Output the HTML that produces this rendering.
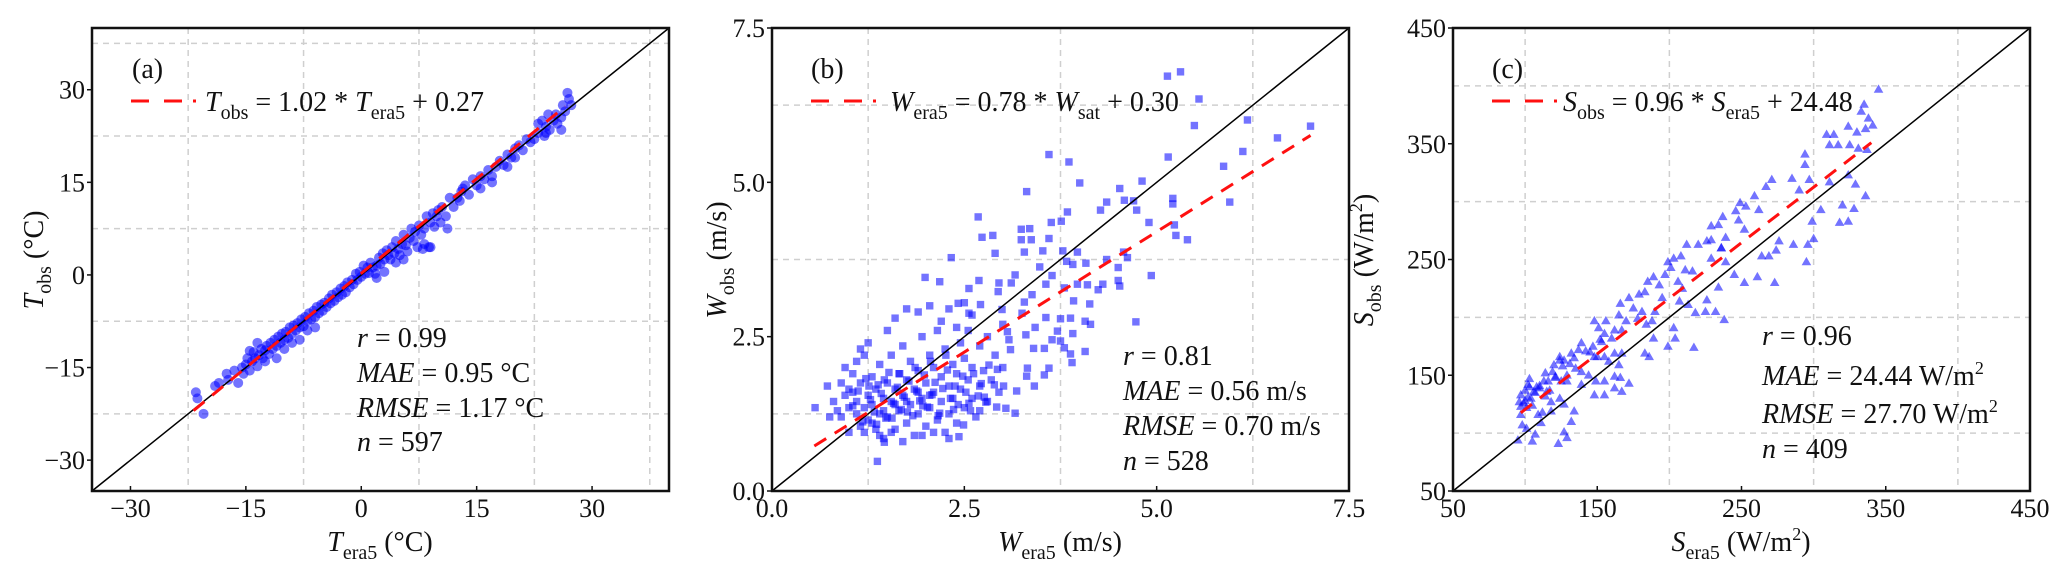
<!DOCTYPE html>
<html><head><meta charset="utf-8"><style>
html,body{margin:0;padding:0;background:#fff;}
svg text{font-family:"Liberation Serif","DejaVu Serif",serif;fill:#111;}
</style></head><body>
<svg id="fig" width="2067" height="576" viewBox="0 0 2067 576" xmlns="http://www.w3.org/2000/svg"></svg>
<script>
// ---------- Panel (a) data ----------
const aX=[-21.5,-21.3,-20.5,-19,-18.5,-17.5,-17.3,-16,-16.5,-15.5,-15.3,-15,-14.8,-14.5,-14.2,-14,-13.8,-13.5,-13.3,-13,-12.8,-12.5,-12.3,-12,-11.8,-11.5,-11.3,-11,-10.8,-10.5,-10.3,-10,-9.8,-9.5,-9.3,-9,-8.8,-8.5,-8.3,-8,-7.8,-7.5,-7.3,-7,-6.8,-6.5,-6.2,-6,-5.8,-5.5,-5.2,-5,-4.8,-4.5,-4.2,-4,-3.8,-3.5,-3.2,-3,-2.7,-2.5,-2.2,-2,-1.8,-1.5,-1.2,-1,-0.7,-0.5,-0.2,0,0.3,0.5,0.8,1,1.2,1.5,1.8,2,2.3,2.5,2.8,3,3.3,3.5,3.8,4,4.3,4.5,4.8,5,5.3,5.5,5.8,6,6.3,6.5,6.8,7,7.3,7.5,7.8,8,8.2,8.5,8.8,9,9.3,9.5,9.8,10,10.3,10.5,11.2,11,11.5,12,12.5,13,13.5,14,14.5,15,15.5,16,16.5,17,17.5,18,18.5,19,19.5,20,20.5,21,21.5,22,22.5,23,23,23.5,23.8,24,24.3,24.5,25,25.3,25.5,26,26.2,26.5,26.8,27,27.3,26,24,12.8,13.2,-12.5,-13.5,-14.5,-11,-10,-9,-8,-7,-6,4.5,5.5,9,8.2,3,2,15.5,17,19,20];
const aY=[-19,-20,-22.5,-18,-17.5,-16,-17,-17.5,-15.5,-15,-16,-14.5,-13.5,-15.5,-14,-12.5,-13.5,-14.8,-13,-12,-13.5,-12.2,-11.5,-12.8,-11,-12,-10.5,-11.5,-10,-11,-9.5,-10.5,-9.2,-10.2,-8.5,-9.5,-8.2,-9,-7.8,-8.5,-7.2,-8.3,-6.8,-7.5,-6.2,-7.2,-5.8,-6.8,-5.2,-6.2,-4.8,-5.8,-4.5,-5.2,-3.8,-4.6,-3.2,-4.2,-2.8,-3.6,-2.2,-3.2,-1.8,-2.8,-1.2,-2,-0.8,-1.5,0.2,-0.8,0.5,-0.3,1.5,0.2,1.2,0.3,2,1.2,0.2,1.5,2.8,1.8,3.5,2.5,4,3.2,2.5,4.5,3.5,5.5,4.2,3.2,5,6.5,4.8,3.8,6,7.5,5.5,7,4.5,8,6.5,4.2,7.5,9.5,4.5,8.5,10,7.8,9.5,10.5,8.5,11,7.5,9.5,12.5,11,12.5,13.5,14.5,13,15.5,14.5,16,15.5,17,16,17.5,18.5,17.8,19.5,19,20.5,21,20.2,22,21.5,22,24.5,23,25,22.5,24,26,23.5,25,26,24.5,25.5,27.5,26.5,29.5,28.5,27.5,23.5,23,12,14,-14,-11,-12.3,-13.5,-12,-11,-10.5,-9,-8.5,2,2.5,4.5,5,0.5,-0.5,14,15,17.5,19];
const aTicks=[-30,-15,0,15,30];
const aGrid=[-22.5,-7.5,7.5,22.5,37.5];
// ---------- Panel (b) data ----------
const bX=[5.14,5.31,5.55,5.49,6.18,7.0,6.57,6.12,5.87,5.95,5.15,3.60,3.86,4.0,3.31,4.81,4.52,4.35,4.58,4.70,4.27,4.74,5.21,5.21,4.90,5.23,5.25,5.40,2.68,2.73,2.87,3.24,3.35,3.24,3.37,3.60,3.63,3.76,3.84,2.90,3.28,3.52,3.78,3.97,2.33,3.48,3.83,3.91,4.08,4.35,4.50,4.62,4.57,4.93,1.99,2.18,2.69,2.56,2.95,3.11,3.16,2.94,3.38,3.56,3.64,3.80,3.97,4.10,4.24,4.30,4.50,4.52,4.73,4.13,3.92,3.28,2.71,2.42,2.56,2.99,3.25,3.56,3.75,3.88,4.07,4.14,3.42,3.71,3.91,3.06,3.30,3.64,3.75,3.08,3.40,3.54,3.80,4.07,3.88,3.90,3.10,3.32,3.60,3.54,3.31,3.41,3.18,2.93,2.89,3.01,2.92,3.04,3.16,2.70,2.49,2.43,1.37,1.46,0.56,0.72,
0.8,0.85,0.9,0.95,1.0,1.0,1.05,1.1,1.1,1.15,1.15,1.2,1.2,1.25,1.25,1.3,1.3,1.35,1.35,1.4,1.4,1.45,1.45,1.5,1.5,1.55,1.55,1.6,1.6,1.65,1.65,1.7,1.7,1.75,1.75,1.8,1.8,1.85,1.85,1.9,1.9,1.95,1.95,2.0,2.0,2.05,2.05,2.1,2.1,2.15,2.15,2.2,2.2,2.25,2.25,2.3,2.3,2.35,2.35,2.4,2.4,2.45,2.45,2.5,2.5,2.55,2.55,2.6,2.6,2.65,2.7,2.7,2.75,2.8,2.8,2.85,2.9,2.95,3.0,3.0,0.75,0.9,1.05,1.2,1.3,1.45,1.6,1.75,1.9,2.05,1.95,1.7,1.55,1.4,2.1,2.3,1.25,1.5,1.6,1.75,1.9,2.05,2.3,2.5,2.6,2.2,0.95,1.15,1.0,1.1,2.4,
1.05,1.12,1.18,1.22,1.28,1.33,1.38,1.42,1.48,1.52,1.58,1.63,1.68,1.72,1.78,1.83,1.88,1.92,1.98,2.02,2.08,2.12,2.18,2.22,2.28,2.32,2.38,2.42,2.48,2.52,2.58,2.62,2.68,2.72,2.78,2.82,1.36,1.56,1.76,1.96,2.16,2.36,2.56,2.76,1.26,1.46,1.66,1.86,2.06,2.26];
const bY=[6.72,6.79,6.35,5.92,6.01,5.91,5.72,5.50,5.26,4.68,5.41,5.45,5.33,4.99,4.85,5.02,4.90,4.68,4.71,4.70,4.55,4.55,4.74,4.65,4.35,4.31,4.14,4.07,4.44,4.11,4.14,4.24,4.25,4.07,4.07,4.09,4.35,4.37,4.52,3.85,3.87,3.89,3.89,3.87,3.78,3.63,3.72,3.67,3.69,3.75,3.62,3.78,3.87,3.49,3.46,3.39,3.41,3.28,3.37,3.37,3.50,3.23,3.18,3.35,3.49,3.29,3.35,3.34,3.26,3.35,3.41,3.32,2.74,3.03,3.08,3.06,3.02,3.04,2.88,2.94,2.88,2.81,2.79,2.80,2.75,2.70,2.65,2.59,2.55,2.58,2.53,2.45,2.43,2.45,2.31,2.31,2.32,2.26,2.22,2.08,2.29,1.99,1.99,1.88,1.86,1.70,1.62,1.97,1.72,1.70,1.36,1.34,1.26,1.30,1.07,0.88,0.48,0.79,1.35,1.70,
1.45,1.3,1.2,1.55,1.35,0.95,1.6,1.25,1.45,1.05,1.75,1.35,0.95,1.55,1.15,1.85,1.4,1.0,1.65,1.25,2.05,1.5,0.85,1.75,1.2,2.2,1.45,1.0,1.65,1.3,1.9,2.35,1.55,1.1,1.8,1.4,2.1,0.9,1.65,1.25,1.95,2.5,1.5,1.05,1.75,2.2,1.35,1.6,2.0,1.15,2.6,1.45,1.85,0.95,2.3,1.7,1.25,2.05,1.5,1.9,1.1,2.4,1.65,1.35,2.15,1.8,2.6,1.5,2.0,1.2,2.35,1.7,1.95,1.45,2.5,1.8,2.2,1.6,2.0,2.7,1.2,1.75,1.9,2.2,1.1,1.3,1.4,1.45,1.6,1.55,0.9,0.8,0.95,0.9,0.95,0.85,2.4,2.6,2.8,2.95,2.9,3.0,2.95,3.05,2.85,2.75,2.0,2.3,1.65,2.1,2.65,
1.38,1.62,1.12,1.82,1.48,1.28,1.72,1.58,1.18,1.92,1.42,1.68,1.32,1.52,1.78,1.22,1.62,1.46,1.88,1.36,1.56,1.76,1.26,1.66,1.96,1.5,1.7,1.4,1.86,1.6,1.3,1.9,1.54,1.74,1.44,2.04,1.08,1.18,1.28,1.38,1.22,1.32,1.42,1.52,1.7,1.8,1.9,2.0,2.1,2.2];
const bTicks=[0,2.5,5,7.5];
const bTickLabels=["0.0","2.5","5.0","7.5"];
const bGrid=[1.25,3.75,6.25];
// ---------- Panel (c) data ----------
const cX=[345,335,338,341,333,330,336,309,314,324,311,317,325,331,337,294,294,285,271,267,297,290,311,324,329,336,320,328,318,324,305,299,300,296,295,286,276,274,269,264,261,273,259,262,249,253,246,237,248,252,229,234,239,236,229,226,236,220,212,229,239,245,252,234,226,225,218,232,238,203,199,208,201,211,216,197,206,189,185,193,183,209,207,213,195,179,172,166,175,181,165,178,190,188,184,203,204,199,189,183,186,217,170,167,162,156,148,151,155,160,153,147,139,137,142,134,132,127,124,148,155,158,162,167,165,162,166,172,155,149,148,155,144,139,135,129,125,121,119,113,110,106,102,100,97,104,96,97,101,97,98,109,111,107,105,123,129,127,132,134,127,124,118,115,114,95,101,103,117,120,124,129,139,162,167,150,118,99,102,105,108,112,116,100,103,107,110,114,121,126,131,145,152];
const cY=[397,384,372,366,378,360,363,358,358,365,349,349,349,346,345,341,332,320,319,313,319,310,317,323,315,305,297,294,282,283,293,283,268,263,248,263,266,258,253,253,235,230,305,293,299,296,292,287,284,276,279,280,269,260,267,266,260,263,263,251,248,237,230,226,215,205,204,205,198,251,248,253,243,241,240,237,231,235,231,228,222,225,214,211,217,220,217,212,208,205,202,199,205,197,194,191,182,175,182,169,166,174,197,189,189,197,197,191,186,182,179,175,178,172,171,165,169,163,166,166,166,162,169,169,159,149,148,143,145,145,133,133,150,153,156,150,145,148,153,145,139,136,142,137,133,130,127,123,122,116,107,116,109,99,93,91,96,101,110,119,125,130,127,136,132,94,104,140,137,159,163,145,142,139,136,166,119,126,131,124,140,118,145,128,147,135,141,152,149,158,160,170,181];
const cTicks=[50,150,250,350,450];
const cGrid=[100,200,300,400];

const NS="http://www.w3.org/2000/svg";
const svg=document.getElementById('fig');
function el(tag,attrs,parent){const e=document.createElementNS(NS,tag);for(const k in attrs)e.setAttribute(k,attrs[k]);(parent||svg).appendChild(e);return e;}

function panel(p){
  const L=p.L,T=28,W=577,H=463,B=T+H,R=L+W;
  const sx=v=>L+(v-p.min)/(p.max-p.min)*W;
  const sy=v=>B-(v-p.min)/(p.max-p.min)*H;
  const g=el('g',{});
  
  
  p.grid.forEach(v=>{
    const gx=el('line',{x1:sx(v),x2:sx(v),y1:T,y2:B,stroke:'#cfcfcf','stroke-width':1.5,'stroke-dasharray':'6,5'},g);
    
    
    const gy=el('line',{x1:L,x2:R,y1:sy(v),y2:sy(v),stroke:'#cfcfcf','stroke-width':1.5,'stroke-dasharray':'6,5'},g);
    
    
  });
  const pg=el('g',{fill:'#0000ff','fill-opacity':0.55},g);
  
  
  for(let i=0;i<p.xs.length;i++){
    const x=sx(p.xs[i]),y=sy(p.ys[i]);let m;
    if(p.marker==='circle') m=el('circle',{cx:x,cy:y,r:5},pg);
    else if(p.marker==='square') m=el('rect',{x:x-3.7,y:y-3.7,width:7.4,height:7.4},pg);
    else m=el('polygon',{points:`${x},${y-5} ${x-4.8},${y+3.4} ${x+4.8},${y+3.4}`},pg);
    
    
  }
  const one=el('line',{x1:L,y1:B,x2:R,y2:T,stroke:'#000','stroke-width':1.5},g);
  
  
  const fl=el('line',{x1:sx(p.fit[0]),y1:sy(p.slope*p.fit[0]+p.icpt),x2:sx(p.fit[1]),y2:sy(p.slope*p.fit[1]+p.icpt),stroke:'#ff1010','stroke-width':3,'stroke-dasharray':'14,10'},g);
  
  
  const fr=el('rect',{x:L,y:T,width:W,height:H,fill:'none',stroke:'#111','stroke-width':2.5},g);
  
  
  p.ticks.forEach((v,i)=>{
    const lab=p.labels?p.labels[i]:String(v).replace('-','\u2212');
    el('line',{x1:sx(v),x2:sx(v),y1:B,y2:B-5,stroke:'#111','stroke-width':1.5},g);
    el('line',{x1:L,x2:L-5,y1:sy(v),y2:sy(v),stroke:'#111','stroke-width':1.5},g);
    const tx=el('text',{x:sx(v),y:517,'font-size':26,'text-anchor':'middle'},g);tx.textContent=lab;
    
    
    const ty=el('text',{x:L-7,y:sy(v)+9,'font-size':26,'text-anchor':'end'},g);ty.textContent=lab;
    
    
  });
  return {L,T,B,R,g};
}
function addHTML(parent,html,name){const t=document.createElementNS(NS,'g');parent.appendChild(t);t.innerHTML=html;const c=t.firstElementChild;return c;}
function legend(P,textX,html){
  const y=101;
  const lg=el('g',{},P.g);
  
  
  el('line',{x1:P.L+39,x2:P.L+57,y1:y,y2:y,stroke:'#ff1010','stroke-width':3},lg);
  el('line',{x1:P.L+72,x2:P.L+90,y1:y,y2:y,stroke:'#ff1010','stroke-width':3},lg);
  el('line',{x1:P.L+101,x2:P.L+104,y1:y,y2:y,stroke:'#ff1010','stroke-width':3},lg);
  addHTML(lg,`<text x="${P.L+textX}" y="${y+10}" font-size="28">${html}</text>`,'legend-label');
}
function stats(P,x,ys,lines){lines.forEach((h,i)=>addHTML(P.g,`<text x="${x}" y="${ys[i]}" font-size="28">${h}</text>`,'stat-text'));}
const sub=(s)=>`<tspan font-size="20" dy="8">${s}</tspan><tspan dy="-8">\u200B</tspan>`;
const sup2=`<tspan font-size="18" dy="-11">2</tspan><tspan dy="11">\u200B</tspan>`;

const A=panel({name:'temperature',L:92,min:-35,max:40,xs:aX,ys:aY,marker:'circle',grid:aGrid,ticks:aTicks,fit:[-21.8,26.5],slope:1.02,icpt:0.27});
addHTML(A.g,`<text x="132" y="78" font-size="28">(a)</text>`,'panel-label-a');
legend(A,113,`<tspan font-style="italic">T</tspan>${sub('obs')} = 1.02 * <tspan font-style="italic">T</tspan>${sub('era5')} + 0.27`);
stats(A,357,[347,382,417,451],[`<tspan font-style="italic">r</tspan> = 0.99`,`<tspan font-style="italic">MAE</tspan> = 0.95 °C`,`<tspan font-style="italic">RMSE</tspan> = 1.17 °C`,`<tspan font-style="italic">n</tspan> = 597`]);
addHTML(A.g,`<text x="380" y="551" font-size="28" text-anchor="middle"><tspan font-style="italic">T</tspan>${sub('era5')} (°C)</text>`,'x-axis-title');
addHTML(A.g,`<text transform="translate(43,260) rotate(-90)" font-size="28" text-anchor="middle"><tspan font-style="italic">T</tspan>${sub('obs')} (°C)</text>`,'y-axis-title');

const Bp=panel({name:'wind',L:772,min:0,max:7.5,xs:bX,ys:bY,marker:'square',grid:bGrid,ticks:bTicks,labels:bTickLabels,fit:[0.55,7.0],slope:0.78,icpt:0.30});
addHTML(Bp.g,`<text x="811" y="78" font-size="28">(b)</text>`,'panel-label-b');
legend(Bp,118,`<tspan font-style="italic">W</tspan>${sub('era5')} = 0.78 * <tspan font-style="italic">W</tspan>${sub('sat')} + 0.30`);
stats(Bp,1123,[365,400,435,470],[`<tspan font-style="italic">r</tspan> = 0.81`,`<tspan font-style="italic">MAE</tspan> = 0.56 m/s`,`<tspan font-style="italic">RMSE</tspan> = 0.70 m/s`,`<tspan font-style="italic">n</tspan> = 528`]);
addHTML(Bp.g,`<text x="1060" y="551" font-size="28" text-anchor="middle"><tspan font-style="italic">W</tspan>${sub('era5')} (m/s)</text>`,'x-axis-title');
addHTML(Bp.g,`<text transform="translate(726,260) rotate(-90)" font-size="28" text-anchor="middle"><tspan font-style="italic">W</tspan>${sub('obs')} (m/s)</text>`,'y-axis-title');

const Cp=panel({name:'radiation',L:1453,min:50,max:450,xs:cX,ys:cY,marker:'triangle',grid:cGrid,ticks:cTicks,fit:[97,340],slope:0.96,icpt:24.48});
addHTML(Cp.g,`<text x="1492" y="78" font-size="28">(c)</text>`,'panel-label-c');
legend(Cp,110,`<tspan font-style="italic">S</tspan>${sub('obs')} = 0.96 * <tspan font-style="italic">S</tspan>${sub('era5')} + 24.48`);
stats(Cp,1762,[345,385,423,458],[`<tspan font-style="italic">r</tspan> = 0.96`,`<tspan font-style="italic">MAE</tspan> = 24.44 W/m${sup2}`,`<tspan font-style="italic">RMSE</tspan> = 27.70 W/m${sup2}`,`<tspan font-style="italic">n</tspan> = 409`]);
addHTML(Cp.g,`<text x="1741" y="551" font-size="28" text-anchor="middle"><tspan font-style="italic">S</tspan>${sub('era5')} (W/m${sup2})</text>`,'x-axis-title');
addHTML(Cp.g,`<text transform="translate(1373,260) rotate(-90)" font-size="28" text-anchor="middle"><tspan font-style="italic">S</tspan>${sub('obs')} (W/m${sup2})</text>`,'y-axis-title');
</script>
</body></html>
